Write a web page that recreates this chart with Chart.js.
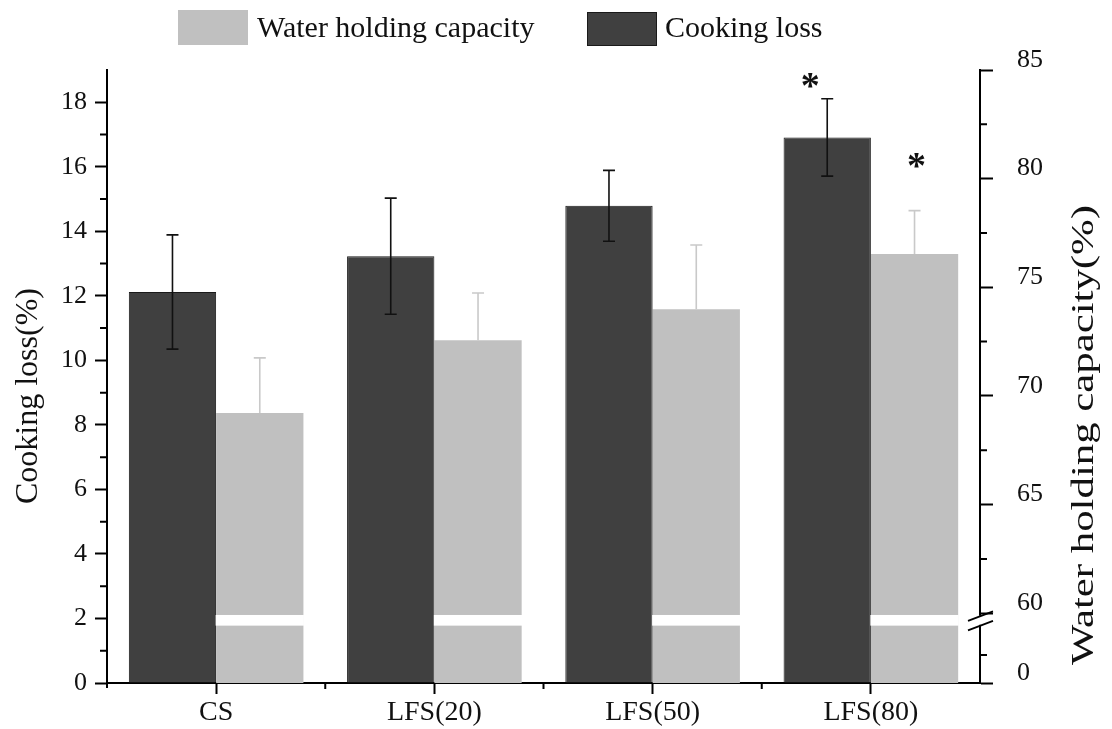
<!DOCTYPE html>
<html>
<head>
<meta charset="utf-8">
<script src="https://cdn.jsdelivr.net/npm/chart.js@4.4.1/dist/chart.umd.min.js"></script>
<style>
  html, body { margin: 0; padding: 0; background: #fff; }
  #wrap { width: 1112px; height: 729px; position: relative; }
</style>
</head>
<body>
<div id="wrap"><canvas id="bar-chart"></canvas></div>
<script>
// Cooking loss (left axis) and water holding capacity (right, broken axis)
const categories = ["CS", "LFS(20)", "LFS(50)", "LFS(80)"];
const cookingLoss = [12.12, 13.23, 14.79, 16.91];
const cookingLossErr = [1.77, 1.8, 1.1, 1.2];
const waterHolding = [69.22, 72.56, 73.99, 76.53];
const waterHoldingErr = [2.53, 2.18, 2.96, 2.0];
const cookingLossMarks = ["", "", "", "*"];
const waterHoldingMarks = ["", "", "", "*"];
const leftTicks = [0, 2, 4, 6, 8, 10, 12, 14, 16, 18];
const rightTicks = [60, 65, 70, 75, 80, 85];

// right axis: 0 at the bottom, then a break, then 60..85
const rightMin = 56.79;
const breakLow = 59.43, breakHigh = 59.92;
const FONT = "'Liberation Serif', 'Times New Roman', serif";

const extras = {
  id: 'extras',
  afterDatasetsDraw(chart) {
    const ctx = chart.ctx;
    const y = chart.scales.y, y1 = chart.scales.y1;
    const dark = chart.getDatasetMeta(0), light = chart.getDatasetMeta(1);
    ctx.save();
    // gap in the water holding bars at the axis break
    const gTop = y1.getPixelForValue(breakHigh), gBot = y1.getPixelForValue(breakLow);
    ctx.fillStyle = '#fff';
    light.data.forEach(b => ctx.fillRect(b.x - b.width / 2 - 0.5, gTop, b.width + 1, gBot - gTop));

    // error bars
    ctx.lineWidth = 1.6;
    ctx.strokeStyle = '#111';
    dark.data.forEach((b, i) => {
      const t = y.getPixelForValue(cookingLoss[i] + cookingLossErr[i]);
      const d = y.getPixelForValue(cookingLoss[i] - cookingLossErr[i]);
      ctx.beginPath();
      ctx.moveTo(b.x, t); ctx.lineTo(b.x, d);
      ctx.moveTo(b.x - 6, t); ctx.lineTo(b.x + 6, t);
      ctx.moveTo(b.x - 6, d); ctx.lineTo(b.x + 6, d);
      ctx.stroke();
    });
    ctx.strokeStyle = '#c9c9c9';
    light.data.forEach((b, i) => {
      const t = y1.getPixelForValue(waterHolding[i] + waterHoldingErr[i]);
      ctx.beginPath();
      ctx.moveTo(b.x, t); ctx.lineTo(b.x, b.y);
      ctx.moveTo(b.x - 6, t); ctx.lineTo(b.x + 6, t);
      ctx.stroke();
    });

    // significance marks
    ctx.fillStyle = '#111';
    ctx.font = 'bold 38px ' + FONT;
    ctx.textAlign = 'center';
    ctx.textBaseline = 'middle';
    dark.data.forEach((b, i) => {
      if (!cookingLossMarks[i]) return;
      ctx.fillText(cookingLossMarks[i], b.x - 17, y.getPixelForValue(cookingLoss[i] + cookingLossErr[i]) - 11);
    });
    light.data.forEach((b, i) => {
      if (!waterHoldingMarks[i]) return;
      ctx.fillText(waterHoldingMarks[i], b.x + 2, y1.getPixelForValue(waterHolding[i] + waterHoldingErr[i]) - 42);
    });
    ctx.restore();
  },
  afterDraw(chart) {
    const ctx = chart.ctx;
    const { x, y, y1 } = chart.scales;
    const area = chart.chartArea;
    ctx.save();
    ctx.strokeStyle = '#000';
    ctx.lineWidth = 2;
    ctx.beginPath();
    // minor ticks
    for (let v = 1; v < 19; v += 2) {
      const p = y.getPixelForValue(v);
      ctx.moveTo(area.left, p); ctx.lineTo(area.left - 7, p);
    }
    [62.5, 67.5, 72.5, 77.5, 82.5, 58.08].forEach(v => {
      const p = y1.getPixelForValue(v);
      ctx.moveTo(area.right, p); ctx.lineTo(area.right + 7, p);
    });
    for (let i = 0; i < categories.length - 1; i++) {
      const p = (x.getPixelForValue(i) + x.getPixelForValue(i + 1)) / 2;
      ctx.moveTo(p, area.bottom); ctx.lineTo(p, area.bottom + 6);
    }
    // left axis runs a little below the x axis
    ctx.moveTo(area.left, area.bottom); ctx.lineTo(area.left, area.bottom + 5);
    ctx.stroke();

    // axis break marks
    const bm = y1.getPixelForValue((breakLow + breakHigh) / 2);
    ctx.fillStyle = '#fff';
    ctx.fillRect(area.right - 4, bm - 4.5, 8, 9);
    ctx.lineWidth = 1.8;
    ctx.beginPath();
    ctx.moveTo(area.right - 12, bm + 0.5); ctx.lineTo(area.right + 13, bm - 9);
    ctx.moveTo(area.right - 12, bm + 10); ctx.lineTo(area.right + 13, bm + 0.5);
    ctx.stroke();

    // axis titles
    ctx.fillStyle = '#111';
    ctx.textAlign = 'center';
    ctx.textBaseline = 'middle';
    ctx.save();
    ctx.translate(29, 396);
    ctx.rotate(-Math.PI / 2);
    ctx.font = '32px ' + FONT;
    ctx.fillText('Cooking loss(%)', 0, 0);
    ctx.restore();
    ctx.save();
    ctx.translate(1085, 435);
    ctx.rotate(-Math.PI / 2);
    ctx.font = '32px ' + FONT;
    const rt = 'Water holding capacity(%)';
    ctx.scale(460 / ctx.measureText(rt).width, 1);
    ctx.fillText(rt, 0, 0);
    ctx.restore();

    // legend (water holding first)
    const ds = chart.data.datasets;
    const items = [
      { d: ds[1], box: [178, 10, 70, 35], tx: 257 },
      { d: ds[0], box: [587, 12, 70, 34], tx: 665 }
    ];
    ctx.font = '30px ' + FONT;
    ctx.textAlign = 'left';
    items.forEach(it => {
      ctx.fillStyle = it.d.backgroundColor;
      ctx.fillRect(...it.box);
      if (it.d.borderWidth) {
        ctx.lineWidth = 1;
        ctx.strokeStyle = it.d.borderColor;
        ctx.strokeRect(it.box[0] + 0.5, it.box[1] + 0.5, it.box[2] - 1, it.box[3] - 1);
      }
      ctx.fillStyle = '#111';
      ctx.fillText(it.d.label, it.tx, 29);
    });
    ctx.restore();
  }
};

new Chart(document.getElementById("bar-chart"), {
  type: 'bar',
  data: {
    labels: categories,
    datasets: [
      {
        label: "Cooking loss",
        data: cookingLoss,
        yAxisID: 'y',
        backgroundColor: '#404040',
        borderColor: '#1a1a1a',
        borderWidth: 1
      },
      {
        label: "Water holding capacity",
        data: waterHolding,
        yAxisID: 'y1',
        backgroundColor: '#c0c0c0',
        borderWidth: 0
      }
    ]
  },
  options: {
    responsive: true,
    maintainAspectRatio: false,
    animation: false,
    layout: { padding: { top: 70, left: 0, right: 0, bottom: 0 } },
    datasets: { bar: { barPercentage: 1, categoryPercentage: 0.8 } },
    plugins: {
      legend: { display: false },
      tooltip: { enabled: false }
    },
    scales: {
      x: {
        grid: { offset: false, drawOnChartArea: false, tickLength: 11, tickWidth: 2, tickColor: '#000' },
        border: { color: '#000', width: 2 },
        ticks: { color: '#111', padding: 2, font: { family: FONT, size: 28 } },
        afterFit: s => { s.height = 46; }
      },
      y: {
        position: 'left',
        min: 0,
        max: 19,
        afterBuildTicks: s => { s.ticks = leftTicks.map(v => ({ value: v })); },
        grid: { drawOnChartArea: false, tickLength: 12, tickWidth: 2, tickColor: '#000' },
        border: { color: '#000', width: 2 },
        ticks: { color: '#111', padding: 8, autoSkip: false, font: { family: FONT, size: 26 } },
        afterFit: s => { s.width = 107; }
      },
      y1: {
        position: 'right',
        min: rightMin,
        max: 85,
        afterBuildTicks: s => { s.ticks = [rightMin, ...rightTicks].map(v => ({ value: v })); },
        grid: { drawOnChartArea: false, tickLength: 13, tickWidth: 2, tickColor: '#000' },
        border: { color: '#000', width: 2 },
        ticks: {
          color: '#111', padding: 24, labelOffset: -10, autoSkip: false,
          font: { family: FONT, size: 26 },
          callback: v => (v === rightMin ? '0' : v)
        },
        afterFit: s => { s.width = 132; }
      }
    }
  },
  plugins: [extras]
});
</script>
</body>
</html>
